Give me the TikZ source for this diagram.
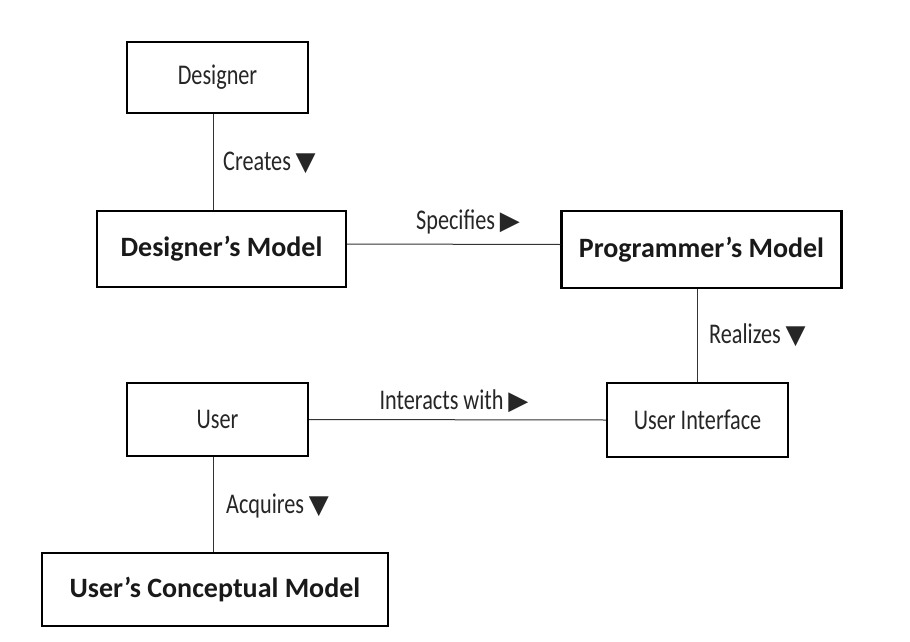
\documentclass[tikz,border=0pt]{standalone}
\usepackage{fontspec}
\newfontfamily\lblfont[FakeStretch=0.78]{Carlito}
\newfontfamily\bfont{Carlito}
\newfontfamily\symfont{DejaVu Sans}
\tikzset{
  thinbox/.style={draw=black, line width=2.4pt, inner sep=0pt, font=\lblfont\fontsize{28.5}{30}\selectfont, text=black!85},
  boldbox/.style={draw=black, line width=2.4pt, inner sep=0pt, font=\bfont\bfseries\fontsize{28}{32}\selectfont, text=black!90},
  conn/.style={draw=black!80, line width=1pt},
  lbl/.style={inner sep=0pt, font=\lblfont\fontsize{28.5}{30}\selectfont, text=black!85},
}
\newcommand{\dtri}{{\symfont\fontsize{26}{26}\selectfont ▼}}
\newcommand{\rtri}{{\symfont\fontsize{26}{26}\selectfont ▶}}
\begin{document}
\begin{tikzpicture}[x=1pt,y=-1pt]
\useasboundingbox (0,0) rectangle (910,642);
\node[thinbox, minimum width=181pt, minimum height=71pt] (designer) at (217.5,77.5) {Designer};
\node[boldbox, minimum width=249pt, minimum height=76pt] (dmodel) at (221.5,249) {Designer’s Model};
\node[boldbox, minimum width=280pt, minimum height=77pt] (pmodel) at (701.5,249.5) {Programmer’s Model};
\node[thinbox, minimum width=181pt, minimum height=73pt] (user) at (217.5,419.5) {User};
\node[thinbox, minimum width=181pt, minimum height=74pt] (ui) at (697.5,420) {User Interface};
\node[boldbox, minimum width=346pt, minimum height=73pt] (ucm) at (215,589.5) {User’s Conceptual Model};

\draw[conn] ([xshift=-4.5pt]designer.south) -- ([xshift=-4.5pt]designer.south |- dmodel.north);
\draw[conn] ([yshift=5pt]dmodel.east) -- ([yshift=5pt]pmodel.west);
\draw[conn] (ui.north |- pmodel.south) -- (ui.north);
\draw[conn] (user.east) -- (ui.west);
\draw[conn] ([xshift=-4.5pt]user.south) -- ([xshift=-4.5pt]user.south |- ucm.north);

\node[lbl, anchor=west] (lcreates) at (223,163) {Creates\,\dtri};
\node[lbl] (lspec) at (468,222) {Specifies\,\rtri};
\node[lbl, anchor=west] (lreal) at (709,335) {Realizes\,\dtri};
\node[lbl] (linter) at (454,401) {Interacts with\,\rtri};
\node[lbl, anchor=west] (lacq) at (226,506) {Acquires\,\dtri};
\end{tikzpicture}
\end{document}
